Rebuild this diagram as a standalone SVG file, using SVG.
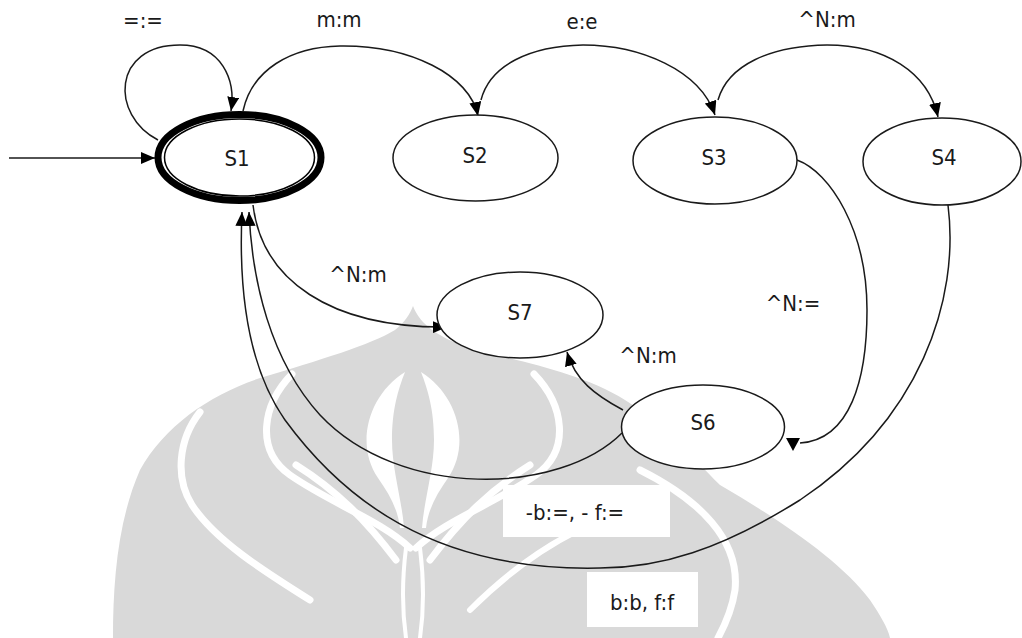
<svg xmlns="http://www.w3.org/2000/svg" width="1022" height="638" viewBox="0 0 1022 638">
  <style>
    .edge { fill: none; stroke: #1a1a1a; stroke-width: 1.5; }
    .node { fill: #ffffff; stroke: #1a1a1a; stroke-width: 1.5; }
    .lbl { font-family: "DejaVu Sans Condensed", "DejaVu Sans", sans-serif; font-stretch: condensed; font-size: 22px; fill: #1a1a1a; text-anchor: middle; }
    .wm { fill: #d9d9d9; }
    .wm-cut { fill: none; stroke: #ffffff; stroke-linecap: round; }
    .box { fill: #ffffff; }
  </style>
  <defs>
    <marker id="arrow" markerWidth="14" markerHeight="12" refX="14" refY="6" orient="auto" markerUnits="userSpaceOnUse">
      <path d="M0,0 L14,6 L0,12 z" fill="#000000"/>
    </marker>
  </defs>

  <rect x="0" y="0" width="1022" height="638" fill="#ffffff"/>

  <!-- background emblem -->
  <g id="emblem">
    <path class="wm" d="M413,306 C420,325 440,338 470,348 C520,362 580,372 625,400 C665,425 690,455 720,485 C780,520 840,560 870,600 C880,615 888,628 890,638 L113,638 C113,580 118,520 140,470 C165,425 210,395 260,378 C320,360 370,345 395,330 C405,322 410,314 413,306 Z"/>
    <path class="wm-cut" stroke-width="7" d="M292,374 C262,405 255,450 290,475 C330,503 380,520 410,548"/>
    <path class="wm-cut" stroke-width="7" d="M534,374 C564,405 571,450 536,475 C496,503 446,520 416,548"/>
    <path class="wm-cut" stroke-width="7" d="M200,412 C178,440 175,478 192,505 C215,540 262,570 310,600"/>
    <path class="wm-cut" stroke-width="7" d="M640,470 C700,500 740,540 735,590 C732,610 725,625 718,638"/>
    <path class="wm-cut" stroke-width="7" d="M430,560 C460,520 490,490 530,465"/>
    <path class="wm-cut" stroke-width="7" d="M396,560 C366,520 336,490 296,465"/>
    <path class="wm-cut" stroke-width="6" d="M470,610 C520,560 580,520 650,505"/>
    <path fill="#ffffff" d="M405,372 C368,395 355,445 378,478 C390,495 398,510 400,528 L404,528 C402,500 392,470 392,440 C392,410 398,390 405,372 Z"/>
    <path fill="#ffffff" d="M421,372 C458,395 471,445 448,478 C436,495 428,510 426,528 L422,528 C424,500 434,470 434,440 C434,410 428,390 421,372 Z"/>
    <path class="wm-cut" stroke-width="4" d="M406,548 C402,580 402,610 406,638"/>
    <path class="wm-cut" stroke-width="4" d="M420,548 C424,580 424,610 420,638"/>
  </g>

  <!-- transitions -->
  <g id="connectors">
    <path class="edge" marker-end="url(#arrow)" d="M9,158 L155,158"/>
    <path class="edge" marker-end="url(#arrow)" d="M158,140 C110,115 112,45 180,45 C222,45 236,80 231,111"/>
    <path class="edge" marker-end="url(#arrow)" d="M243,111 C252,70 290,47 340,46 C410,45 470,75 478,116"/>
    <path class="edge" marker-end="url(#arrow)" d="M481,100 C490,65 530,46 583,45 C640,45 700,70 715,115"/>
    <path class="edge" marker-end="url(#arrow)" d="M718,100 C728,65 770,46 827,45 C885,45 928,72 938,117"/>
    <path class="edge" d="M797,160 C830,172 867,230 867,310 C867,380 850,440 800,443"/>
    <polygon points="786,438 800,438 793,451" fill="#000000"/>
    <path class="edge" marker-end="url(#arrow)" d="M948,205 C960,300 920,420 800,500 C720,550 660,568 600,568 C430,572 340,495 285,420 C250,370 238,300 242,212"/>
    <path class="edge" marker-end="url(#arrow)" d="M622,433 C560,495 400,500 320,415 C270,360 252,280 249,212"/>
    <path class="edge" marker-end="url(#arrow)" d="M253,205 C262,280 330,328 447,327"/>
    <path class="edge" marker-end="url(#arrow)" d="M623,410 C595,395 575,380 567,352"/>
  </g>

  <!-- states -->
  <g id="S1">
    <ellipse cx="239.5" cy="157.5" rx="81.5" ry="43" fill="#ffffff" stroke="#000000" stroke-width="7"/>
    <ellipse cx="239.5" cy="157.5" rx="75" ry="38.5" fill="none" stroke="#000000" stroke-width="1.5"/>
    <text class="lbl" x="237" y="166">S1</text>
  </g>
  <g id="S2">
    <ellipse class="node" cx="475.5" cy="158" rx="82.5" ry="43"/>
    <text class="lbl" x="475" y="163">S2</text>
  </g>
  <g id="S3">
    <ellipse class="node" cx="715" cy="160.5" rx="82" ry="43.5"/>
    <text class="lbl" x="714" y="165">S3</text>
  </g>
  <g id="S4">
    <ellipse class="node" cx="942" cy="161.5" rx="79" ry="43.5"/>
    <text class="lbl" x="944" y="165">S4</text>
  </g>
  <g id="S7">
    <ellipse class="node" cx="520" cy="315" rx="83" ry="43"/>
    <text class="lbl" x="520" y="320">S7</text>
  </g>
  <g id="S6">
    <ellipse class="node" cx="703" cy="427" rx="81.5" ry="42"/>
    <text class="lbl" x="703" y="430">S6</text>
  </g>

  <!-- transition labels -->
  <g id="labels">
    <text class="lbl" x="143" y="28">=:=</text>
    <text class="lbl" x="339" y="27">m:m</text>
    <text class="lbl" x="582" y="29">e:e</text>
    <text class="lbl" x="827" y="27">^N:m</text>
    <text class="lbl" x="358" y="282">^N:m</text>
    <text class="lbl" x="793" y="311">^N:=</text>
    <text class="lbl" x="648" y="363">^N:m</text>
    <rect class="box" x="503" y="485" width="167" height="52"/>
    <text class="lbl" x="575" y="520">-b:=, - f:=</text>
    <rect class="box" x="587" y="572" width="111" height="55"/>
    <text class="lbl" x="642" y="610">b:b, f:f</text>
  </g>
</svg>
